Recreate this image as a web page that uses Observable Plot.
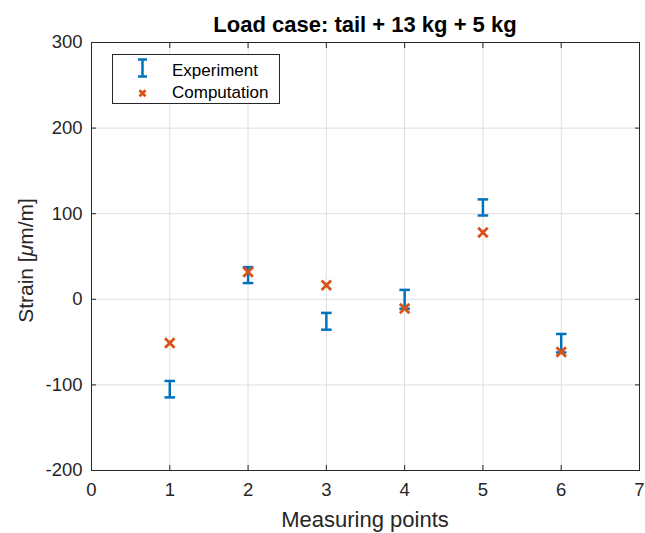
<!DOCTYPE html>
<html>
<head>
<meta charset="utf-8">
<script src="https://cdn.jsdelivr.net/npm/d3@7"></script>
<script src="https://cdn.jsdelivr.net/npm/@observablehq/plot@0.6"></script>
<style>
  html, body { margin: 0; padding: 0; background: #fff; }
  body { font-family: "Liberation Sans", Arial, sans-serif; color: #262626; }
  #wrap { position: relative; width: 645px; height: 533px; overflow: hidden; }
  .title { position: absolute; left: 91px; width: 548px; top: 13.7px; text-align: center;
           font-size: 22px; line-height: 22px; font-weight: bold; color: #000; white-space: nowrap; }
  .xlabel { position: absolute; left: 91px; width: 548px; top: 509.4px; text-align: center;
            font-size: 22px; line-height: 22px; color: #262626; white-space: nowrap; }
  .ylabel { position: absolute; left: -125px; width: 300px; top: 250px; text-align: center;
            font-size: 21px; line-height: 21px; color: #262626; white-space: nowrap;
            transform: rotate(-90deg); transform-origin: 150px 10.5px; }
  .legend { position: absolute; left: 112px; top: 54px; width: 168px; height: 50px;
            box-sizing: border-box; border: 1px solid #262626; background: #fff; }
  .legend .item { position: absolute; left: 59px; font-size: 17px; line-height: 17px; color: #000; white-space: nowrap; }
  .legend svg { position: absolute; left: 0; top: 0; overflow: visible; }
</style>
</head>
<body>
<div id="wrap"></div>
<script>
// ---- data ----
const measuringPoints = [1, 2, 3, 4, 5, 6];
const experimentValues = [-105, 28.3, -25.7, 0, 107.3, -51.3];
const experimentError = [9.6, 9.3, 9.8, 11, 9.4, 10.8];
const computationValues = [-51, 32, 16.3, -10.7, 78, -61.5];
const xTicks = [0, 1, 2, 3, 4, 5, 6, 7];
const yTicks = [-200, -100, 0, 100, 200, 300];
const titleText = "Load case: tail + 13 kg + 5 kg";
const xLabelText = "Measuring points";
const legendLabels = ["Experiment", "Computation"];

const expColor = "#0072BD";
const compColor = "#D95319";

const rows = measuringPoints.map((p, i) => ({
  p,
  v: experimentValues[i],
  lo: experimentValues[i] - experimentError[i],
  hi: experimentValues[i] + experimentError[i],
  c: computationValues[i]
}));

const capSymbol = {
  draw(context) {
    const w = 5.3;
    context.moveTo(-w, 0);
    context.lineTo(w, 0);
  }
};

const fmt = d => String(d);

const plot = Plot.plot({
  width: 645,
  height: 533,
  marginLeft: 91,
  marginRight: 6,
  marginTop: 42,
  marginBottom: 63,
  style: {
    fontFamily: '"Liberation Sans", Arial, sans-serif',
    fontSize: "18.5px",
    color: "#262626",
    background: "white",
    overflow: "visible"
  },
  x: { domain: [0, 7], ticks: xTicks },
  y: { domain: [-200, 300], ticks: yTicks },
  marks: [
    Plot.gridX({ ticks: xTicks, stroke: "#dfdfdf", strokeOpacity: 1 }),
    Plot.gridY({ ticks: yTicks, stroke: "#dfdfdf", strokeOpacity: 1 }),
    Plot.axisX({ ticks: xTicks, anchor: "bottom", tickSize: 0, tickPadding: 12, label: null, tickFormat: fmt }),
    Plot.axisY({ ticks: yTicks, anchor: "left", tickSize: 0, tickPadding: 9, label: null, tickFormat: fmt }),
    Plot.axisX({ ticks: xTicks, anchor: "bottom", tickSize: -5, tickFormat: () => "", label: null, stroke: "#262626" }),
    Plot.axisX({ ticks: xTicks, anchor: "top", tickSize: -5, tickFormat: () => "", label: null, stroke: "#262626" }),
    Plot.axisY({ ticks: yTicks, anchor: "left", tickSize: -5, tickFormat: () => "", label: null, stroke: "#262626" }),
    Plot.axisY({ ticks: yTicks, anchor: "right", tickSize: -5, tickFormat: () => "", label: null, stroke: "#262626" }),
    Plot.frame({ stroke: "#262626", strokeWidth: 1 }),
    Plot.ruleX(rows, { x: "p", y1: "lo", y2: "hi", stroke: expColor, strokeWidth: 2.5 }),
    Plot.dot(rows, { x: "p", y: "hi", symbol: capSymbol, r: 5, fill: "none", stroke: expColor, strokeWidth: 2.5 }),
    Plot.dot(rows, { x: "p", y: "lo", symbol: capSymbol, r: 5, fill: "none", stroke: expColor, strokeWidth: 2.5 }),
    Plot.dot(rows, { x: "p", y: "c", symbol: "times", r: 4.4, fill: "none", stroke: compColor, strokeWidth: 2.8 })
  ]
});

const wrap = document.getElementById("wrap");
wrap.appendChild(plot);

const title = document.createElement("div");
title.className = "title";
title.textContent = titleText;
wrap.appendChild(title);

const xl = document.createElement("div");
xl.className = "xlabel";
xl.textContent = xLabelText;
wrap.appendChild(xl);

const yl = document.createElement("div");
yl.className = "ylabel";
yl.innerHTML = "Strain [<i>&mu;</i>m/m]";
wrap.appendChild(yl);

const lg = document.createElement("div");
lg.className = "legend";
lg.innerHTML = `
  <svg width="168" height="50">
    <line x1="29.5" y1="4.5" x2="29.5" y2="21.5" stroke="${expColor}" stroke-width="2.5"/>
    <line x1="25" y1="4.5" x2="34" y2="4.5" stroke="${expColor}" stroke-width="2.5"/>
    <line x1="25" y1="21.5" x2="34" y2="21.5" stroke="${expColor}" stroke-width="2.5"/>
    <path d="M26.5,35.3L32.5,41.3M26.5,41.3L32.5,35.3" stroke="${compColor}" stroke-width="2.8" fill="none"/>
  </svg>
  <div class="item" style="top:7px">${legendLabels[0]}</div>
  <div class="item" style="top:29px">${legendLabels[1]}</div>`;
wrap.appendChild(lg);
</script>
</body>
</html>
